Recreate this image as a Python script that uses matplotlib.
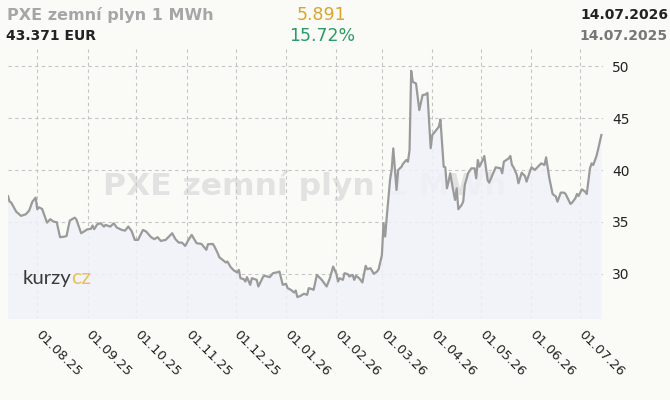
import pandas as pd
import matplotlib
matplotlib.use("Agg")
import matplotlib.pyplot as plt
import matplotlib.dates as mdates
from matplotlib.transforms import ScaledTranslation

# days since 14.07.2025 and price in EUR per MWh
start = pd.Timestamp("2025-07-14")
days = [0, 1, 2, 5, 8, 11, 13, 15, 17, 18, 19, 21, 24, 26, 28, 30, 32, 35, 36, 38,
        41, 42, 45, 49, 51, 52, 53, 55, 57, 59, 60, 63, 65, 67, 70, 72, 74, 76, 78, 80,
        83, 85, 88, 90, 92, 94, 97, 99, 101, 103, 105, 107, 109, 111, 113, 116, 119, 120, 122, 123,
        126, 127, 129, 130, 132, 134, 135, 137, 139, 141, 142, 143, 145, 146, 147, 149, 150, 153, 154, 157,
        158, 161, 163, 166, 167, 169, 171, 172, 174, 176, 177, 178, 180, 182, 184, 185, 187, 188, 190, 193,
        196, 198, 200, 202, 203, 204, 206, 207, 209, 210, 212, 213, 214, 216, 218, 220, 221, 223, 225, 227,
        228, 230, 231, 232, 233, 235, 236, 237, 239, 240, 242, 243, 245, 246, 247, 248, 249, 251, 253, 255,
        257, 258, 260, 261, 265, 266, 268, 269, 270, 271, 272, 274, 275, 276, 277, 279, 280, 281, 283, 285,
        287, 288, 289, 290, 292, 293, 295, 296, 298, 300, 303, 304, 305, 308, 309, 310, 311, 313, 314, 316,
        318, 319, 321, 322, 324, 325, 328, 330, 331, 333, 335, 337, 338, 340, 342, 343, 345, 346, 347, 349,
        350, 351, 353, 355, 356, 358, 359, 360, 362, 363, 365]
prices = [37.48, 36.95, 36.86, 36.00, 35.58, 35.74, 36.09, 36.95, 37.34, 36.22, 36.41, 36.25, 34.93, 35.26, 35.03, 34.97, 33.53, 33.59, 33.65, 35.13,
          35.41, 35.26, 33.91, 34.30, 34.33, 34.65, 34.30, 34.78, 34.87, 34.55, 34.71, 34.55, 34.87, 34.45, 34.23, 34.16, 34.55, 34.13, 33.27, 33.27,
          34.23, 34.07, 33.53, 33.34, 33.53, 33.17, 33.27, 33.59, 33.91, 33.34, 33.01, 33.01, 32.69, 33.27, 33.75, 32.95, 32.88, 32.69, 32.31, 32.85,
          32.88, 32.63, 31.99, 31.60, 31.35, 31.09, 31.18, 30.64, 30.32, 30.13, 30.38, 29.58, 29.49, 29.26, 29.68, 28.94, 29.58, 29.42, 28.78, 29.74,
          29.81, 29.68, 30.06, 30.16, 30.22, 28.94, 29.04, 28.62, 28.46, 28.20, 28.39, 27.76, 27.88, 28.08, 27.98, 28.62, 28.53, 28.46, 29.90, 29.42,
          28.78, 29.58, 30.70, 30.00, 29.26, 29.58, 29.42, 30.06, 29.97, 29.74, 29.90, 29.42, 29.81, 29.58, 29.17, 30.77, 30.45, 30.54, 30.00, 30.22,
          30.45, 31.80, 34.87, 33.59, 35.50, 39.04, 40.00, 42.08, 38.08, 40.00, 40.30, 40.60, 40.96, 40.80, 41.90, 49.55, 48.49, 48.33, 45.77, 47.21,
          47.28, 47.43, 42.10, 43.37, 44.16, 44.87, 40.32, 40.26, 38.24, 38.88, 39.68, 37.92, 37.12, 38.24, 36.22, 36.63, 36.95, 38.56, 39.68, 40.16,
          40.16, 39.20, 40.96, 40.32, 40.96, 41.35, 39.04, 38.78, 39.52, 40.26, 40.16, 39.68, 40.80, 41.12, 41.35, 40.48, 40.26, 39.52, 38.72, 39.74,
          39.42, 38.88, 39.84, 40.26, 40.00, 40.16, 40.64, 40.48, 41.22, 39.20, 37.69, 37.44, 36.95, 37.82, 37.82, 37.69, 37.05, 36.73, 36.86, 37.28,
          37.69, 37.50, 38.14, 37.92, 37.69, 40.16, 40.64, 40.48, 41.35, 42.00, 43.371]
dates = start + pd.to_timedelta(days, unit="D")

title = "PXE zemní plyn 1 MWh"
last_price = "43.371 EUR"
change_abs = "5.891"
change_pct = "15.72%"
date_to = "14.07.2026"
date_from = "14.07.2025"
y_ticks = [30, 35, 40, 45, 50]

W, H = 670, 400
bg = "#fafaf6"

fig = plt.figure(figsize=(W / 100, H / 100), dpi=100, facecolor=bg)
# axes box in pixels: left 8, right 603, top 48, bottom 319
ax = fig.add_axes([8 / W, 1 - 319 / H, (603 - 8) / W, (319 - 48) / H])
ax.set_facecolor(bg)

# watermark behind the data
ax.text(305 / W, 1 - 195 / H, title, transform=fig.transFigure, ha="center", va="baseline",
        fontsize=22.6, fontweight="bold", color="#e2e2e2", zorder=0)

ax.fill_between(dates, prices, 0, color="#f1f2f9", alpha=0.85, lw=0, zorder=2)
ax.plot(dates, prices, color="#9a9a9a", lw=1.6, zorder=3)

ax.set_xlim(dates[0], dates[-1] + pd.Timedelta(days=1))
ax.set_ylim(25.65, 51.75)

ax.xaxis.set_major_locator(mdates.MonthLocator(bymonthday=1))
ax.xaxis.set_major_formatter(mdates.DateFormatter("%d.%m.%y"))
ax.set_yticks(y_ticks)
ax.yaxis.tick_right()
ax.tick_params(axis="both", length=0, colors="#222222")
ax.tick_params(axis="y", labelsize=10, pad=6.5)
ax.tick_params(axis="x", labelsize=9.5, pad=6.5)
shift = ScaledTranslation(5 / 100, 0, fig.dpi_scale_trans)
for lbl in ax.get_xticklabels():
    lbl.set_rotation(-45)
    lbl.set_ha("left")
    lbl.set_va("top")
    lbl.set_rotation_mode("anchor")
    lbl.set_transform(lbl.get_transform() + shift)

ax.grid(True, color="#c4c4c4", lw=0.8, ls=(0, (3, 3)), zorder=1)
for s in ax.spines.values():
    s.set_visible(False)

# kurzy.cz logo
ax.text(23 / W, 1 - 284 / H, "kurzy", transform=fig.transFigure, fontsize=14.7,
        family="Lato", color="#3a3a3a", va="baseline", zorder=4)
ax.text(71 / W, 1 - 284 / H, "cz", transform=fig.transFigure, fontsize=15.5,
        family="Lato", color="#e8c060", va="baseline", zorder=4)

# header
fig.text(7 / W, 1 - 15 / H, title, fontsize=11.5, fontweight="bold", color="#a6a6a6", va="center")
fig.text(6 / W, 1 - 36 / H, last_price, fontsize=10, fontweight="bold", color="#222222", va="center")
fig.text(322 / W, 1 - 15 / H, change_abs, fontsize=12.5, color="#d9a62e", ha="center", va="center")
fig.text(322 / W, 1 - 36 / H, change_pct, fontsize=12.5, color="#2e9a6a", ha="center", va="center")
fig.text(668 / W, 1 - 15 / H, date_to, fontsize=10, fontweight="bold", color="#222222", ha="right", va="center")
fig.text(668 / W, 1 - 36 / H, date_from, fontsize=10, fontweight="bold", color="#777777", ha="right", va="center")

fig.savefig("out.png", dpi=100, facecolor=bg)
